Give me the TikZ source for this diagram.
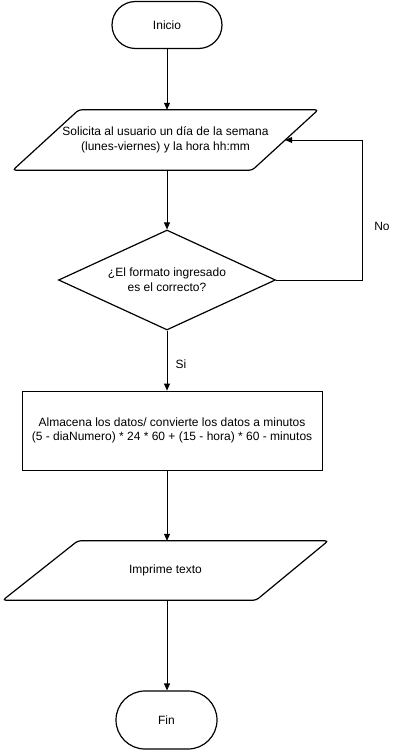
\documentclass[tikz,border=0pt]{standalone}
\usepackage{fontspec}
\setmainfont{Liberation Sans}
\usetikzlibrary{shapes.geometric,arrows.meta}
\begin{document}
\begin{tikzpicture}[x=1pt,y=-1pt,
  every node/.style={font=\fontsize{12}{15}\selectfont, align=center, inner sep=0pt},
  shapebox/.style={draw, line width=1.2pt, fill=white},
  terminal/.style={shapebox, rectangle, rounded corners=23.5pt},
  iotext/.style={rectangle},
  ioline/.style={draw, line width=1.2pt, rounded corners=3pt},
  procbox/.style={draw, line width=0.8pt, rectangle},
  decision/.style={shapebox, diamond},
  conn/.style={draw, line width=0.8pt, -{Triangle[length=7pt,width=6pt]}},
  lbl/.style={font=\fontsize{12}{14}\selectfont}
]
\useasboundingbox (0,0) rectangle (403,752);
\node[terminal, minimum width=110pt, minimum height=47pt] (inicio) at (167,25) {Inicio};
% input parallelogram 1
\node[iotext, minimum width=305pt, minimum height=60pt] (par1) at (165.5,140) {Solicita al usuario un día de la semana\\(lunes-viernes) y la hora hh:mm};
\draw[ioline] ([xshift=66pt]par1.north west) -- (par1.north east) -- ([xshift=-66pt]par1.south east) -- (par1.south west) -- cycle;
\coordinate (par1r) at ([xshift=-33pt]par1.east);
\node[decision, minimum width=217pt, minimum height=100pt, shape aspect=2.17] (dia) at (167,280) {¿El formato ingresado\\es el correcto?};
\node[procbox, minimum width=300pt, minimum height=79pt, font=\fontsize{12}{14}\selectfont] (proc) at (172,430.5) {Almacena los datos/ convierte los datos a minutos\\(5 - diaNumero) * 24 * 60 + (15 - hora) * 60 - minutos};
% output parallelogram 2
\node[iotext, minimum width=325pt, minimum height=59pt] (par2) at (165.5,570.5) {Imprime texto};
\draw[ioline] ([xshift=75pt]par2.north west) -- (par2.north east) -- ([xshift=-72pt]par2.south east) -- (par2.south west) -- cycle;
\node[terminal, rounded corners=29pt, minimum width=101pt, minimum height=58pt] (fin) at (166.5,720) {Fin};
\coordinate (loopc) at (362,0);
\node[lbl] (no) at (382,226) {No};
\node[lbl] (si) at (181,364) {Si};
\draw[conn] (dia.north |- inicio.south) -- (dia.north |- par1.north);
\draw[conn] (dia.north |- par1.south) -- (dia.north);
\draw[conn] (dia.east) -- (dia.east -| loopc) -- (par1r -| loopc) -- (par1r);
\draw[conn] (dia.south) -- (dia.south |- proc.north);
\draw[conn] (dia.south |- proc.south) -- (dia.south |- par2.north);
\draw[conn] (dia.south |- par2.south) -- (dia.south |- fin.north);
\end{tikzpicture}
\end{document}
